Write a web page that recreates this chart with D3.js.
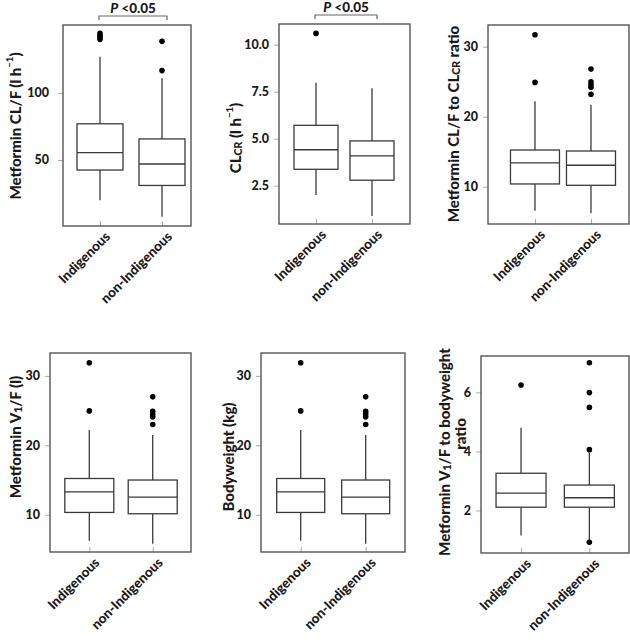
<!DOCTYPE html>
<html><head><meta charset="utf-8">
<script src="https://cdn.jsdelivr.net/npm/d3@7"></script>
<style>
html,body{margin:0;padding:0;background:#fff;}
svg text{font-family:Lato,"Open Sans",sans-serif;font-weight:900;fill:#1a1a1a;}
</style></head>
<body>
<svg id="c" width="630" height="642"></svg>
<script>
// ---- data (five-number summaries: low whisker, Q1, median, Q3, high whisker) ----
const categories = ["Indigenous", "non-Indigenous"];
const clfBoxes = [[20, 42.5, 55.5, 77, 127], [7.7, 31, 47, 65.7, 111]];
const clfOutliers = [[140, 141.5, 143, 144.5], [116.7, 138.5]];
const clcrBoxes = [[2.0, 3.37, 4.41, 5.71, 7.98], [0.89, 2.79, 4.08, 4.88, 7.68]];
const clcrOutliers = [[10.6], []];
const clRatioBoxes = [[6.57, 10.39, 13.39, 15.24, 22.2], [6.2, 10.2, 13.06, 15.1, 21.7]];
const clRatioOutliers = [[24.9, 31.7], [23.2, 24.2, 24.6, 25.0, 26.8]];
const vBoxes = [[6.26, 10.33, 13.3, 15.22, 22.2], [5.83, 10.14, 12.55, 15.0, 21.5]];
const vOutliers = [[24.96, 31.9], [23.0, 24.1, 24.5, 24.9, 26.98]];
const bwBoxes = [[6.26, 10.33, 13.3, 15.22, 22.2], [5.83, 10.14, 12.55, 15.0, 21.5]];
const bwOutliers = [[24.96, 31.9], [23.0, 24.1, 24.5, 24.9, 26.98]];
const vRatioBoxes = [[1.15, 2.11, 2.59, 3.26, 4.80], [0.95, 2.11, 2.43, 2.86, 3.95]];
const vRatioOutliers = [[6.25], [0.92, 4.06, 5.49, 5.99, 7.0]];
const clfTicks = [50, 100];
const clcrTicks = [2.5, 5.0, 7.5, 10.0];
const ratioTicks = [10, 20, 30];
const vRatioTicks = [2, 4, 6];
const pLabel = "<0.05";

// ---- layout ----
const panels = [
  {boxes: clfBoxes, outs: clfOutliers, ticks: clfTicks, fmt: d3.format("d"),
   fx: [63, 191], fy: [25, 226], xd: [0.403, 2.468], yd: [0.75, 150.7], bw: 46, tp: 9,
   label: [{t: "Metformin CL/F (l h"}, {t: "−1", sup: true}, {t: ")"}], lx: 15, ly: 126, p: true},
  {boxes: clcrBoxes, outs: clcrOutliers, ticks: clcrTicks, fmt: d3.format(".1f"),
   fx: [279, 410], fy: [24, 224], xd: [0.339, 2.679], yd: [0.46, 11.1], bw: 44, tp: 5,
   label: [{t: "CL"}, {t: "CR", sub: true}, {t: " (l h"}, {t: "−1", sup: true}, {t: ")"}], lx: 235, ly: 138, p: true},
  {boxes: clRatioBoxes, outs: clRatioOutliers, ticks: ratioTicks, fmt: d3.format("d"),
   fx: [488, 629], fy: [25, 224], xd: [0.161, 2.679], yd: [4.67, 33.1], bw: 49, tp: 5,
   label: [{t: "Metformin CL/F to CL"}, {t: "CR", sub: true}, {t: " ratio"}], lx: 453, ly: 124},
  {boxes: vBoxes, outs: vOutliers, ticks: ratioTicks, fmt: d3.format("d"),
   fx: [50, 191], fy: [353, 552], xd: [0.38, 2.604], yd: [4.63, 33.3], bw: 49, tp: 5,
   label: [{t: "Metformin V"}, {t: "1", sub: true}, {t: "/F (l)"}], lx: 15, ly: 437},
  {boxes: bwBoxes, outs: bwOutliers, ticks: ratioTicks, fmt: d3.format("d"),
   fx: [261, 405], fy: [353, 552], xd: [0.389, 2.605], yd: [4.63, 33.3], bw: 48, tp: 5,
   label: [{t: "Bodyweight (kg)"}], lx: 228, ly: 457},
  {boxes: vRatioBoxes, outs: vRatioOutliers, ticks: vRatioTicks, fmt: d3.format("d"),
   fx: [481, 629], fy: [356, 553], xd: [0.414, 2.58], yd: [0.56, 7.23], bw: 50, tp: 5,
   label: [{t: "Metformin V"}, {t: "1", sub: true}, {t: "/F to bodyweight"}], lx: 444, ly: 452,
   label2: "ratio", l2x: 460, l2y: 434}
];

const svg = d3.select("#c");
const lineCol = "#3a3a3a";

panels.forEach(P => {
  const g = svg.append("g");
  const x = d3.scaleLinear().domain(P.xd).range(P.fx);
  const y = d3.scaleLinear().domain(P.yd).range([P.fy[1], P.fy[0]]);

  // y axis
  const ya = g.append("g").attr("transform", `translate(${P.fx[0]},0)`)
    .call(d3.axisLeft(y).tickValues(P.ticks).tickFormat(P.fmt).tickSize(5).tickPadding(P.tp));
  ya.select(".domain").remove();
  ya.selectAll("line").attr("stroke", "#aaa");
  ya.selectAll("text").style("font-size", "12.5px").attr("fill", "#1a1a1a");

  // x axis
  const xa = g.append("g").attr("transform", `translate(0,${P.fy[1]})`)
    .call(d3.axisBottom(x).tickValues([1, 2]).tickFormat((d, i) => categories[i]).tickSize(-5).tickPadding(0));
  xa.select(".domain").remove();
  xa.selectAll("line").attr("stroke", "#aaa");
  xa.selectAll("text")
    .style("font-size", "13.5px")
    .attr("text-anchor", "end")
    .attr("dy", null).attr("y", null)
    .attr("transform", "translate(8,9) rotate(-45)")
    .attr("dominant-baseline", "middle")
    .attr("fill", "#1a1a1a");

  // boxes
  P.boxes.forEach((b, i) => {
    const cx = x(i + 1), h = P.bw / 2;
    const bg = g.append("g").attr("stroke", lineCol).attr("stroke-width", 1.3).attr("fill", "none");
    bg.append("line").attr("x1", cx).attr("x2", cx).attr("y1", y(b[0])).attr("y2", y(b[1]));
    bg.append("line").attr("x1", cx).attr("x2", cx).attr("y1", y(b[3])).attr("y2", y(b[4]));
    bg.append("rect").attr("x", cx - h).attr("width", P.bw)
      .attr("y", y(b[3])).attr("height", y(b[1]) - y(b[3])).attr("fill", "#fff");
    bg.append("line").attr("x1", cx - h).attr("x2", cx + h).attr("y1", y(b[2])).attr("y2", y(b[2]));
    g.selectAll(null).data(P.outs[i]).enter().append("circle")
      .attr("cx", cx).attr("cy", d => y(d)).attr("r", 2.8).attr("fill", "#000");
  });

  // frame
  g.append("rect").attr("x", P.fx[0]).attr("y", P.fy[0])
    .attr("width", P.fx[1] - P.fx[0]).attr("height", P.fy[1] - P.fy[0])
    .attr("fill", "none").attr("stroke", "#555").attr("stroke-width", 1.4);

  // y label
  const lt = g.append("text").attr("transform", `translate(${P.lx},${P.ly}) rotate(-90)`)
    .attr("text-anchor", "middle").attr("dominant-baseline", "central").style("font-size", "15px");
  P.label.forEach(s => {
    const ts = lt.append("tspan").text(s.t);
    if (s.sub) ts.style("font-size", "10.5px").attr("dy", 3);
    if (s.sup) ts.style("font-size", "9.5px").attr("dy", -6);
  });
  lt.selectAll("tspan").each(function(d, i) {
    const prev = i > 0 ? P.label[i - 1] : null;
    if (prev && (prev.sub || prev.sup) && !(P.label[i].sub || P.label[i].sup)) {
      d3.select(this).attr("dy", prev.sub ? -3 : 6);
    }
  });
  if (P.label2) {
    g.append("text").attr("transform", `translate(${P.l2x},${P.l2y}) rotate(-90)`)
      .attr("text-anchor", "middle").attr("dominant-baseline", "central").style("font-size", "15px")
      .text(P.label2);
  }

  // significance bracket
  if (P.p) {
    const x1 = x(1) - 1, x2 = x(2) + 5, by = P.fy[0] - 9;
    g.append("path").attr("d", `M${x1},${by + 4}V${by}H${x2}V${by + 4}`)
      .attr("fill", "none").attr("stroke", "#666").attr("stroke-width", 1.2);
    const t = g.append("text").attr("x", (x1 + x2) / 2).attr("y", by - 3)
      .attr("text-anchor", "middle").style("font-size", "13.5px");
    t.append("tspan").text("P").style("font-style", "italic");
    t.append("tspan").text(" " + pLabel);
  }
});
</script>
</body></html>
